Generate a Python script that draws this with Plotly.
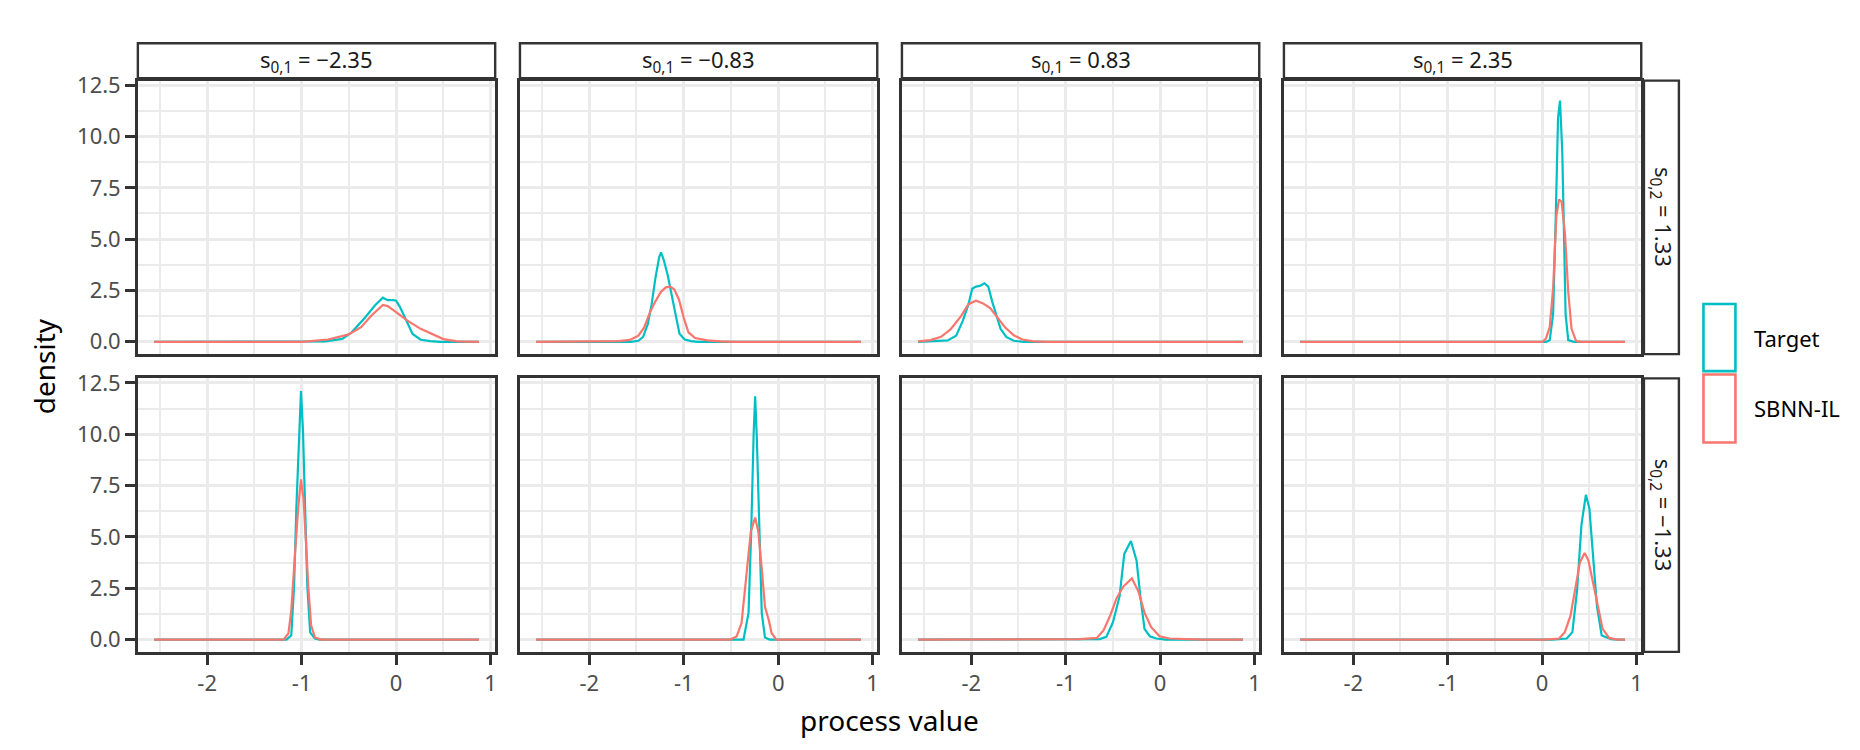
import plotly.graph_objects as go

# ---------------- data ----------------
s01_values = [-2.35, -0.83, 0.83, 2.35]
s02_values = [1.33, -1.33]
series_names = ["Target", "SBNN-IL"]
series_colors = ["#00BFC4", "#F8766D"]

x_tick_vals = [-2, -1, 0, 1]
x_tick_text = ["-2", "-1", "0", "1"]
x_minor_vals = [-2.5, -1.5, -0.5, 0.5]
y_tick_vals = [0, 2.5, 5, 7.5, 10, 12.5]
y_tick_text = ["0.0", "2.5", "5.0", "7.5", "10.0", "12.5"]
y_minor_vals = [1.25, 3.75, 6.25, 8.75, 11.25]

# row 1 (s02 = 1.33)
target_x_r1c1 = [-2.562, -0.9, -0.75, -0.57, -0.47, -0.33, -0.225, -0.14, -0.09, -0.03, 0.0, 0.04, 0.1, 0.175, 0.26, 0.365, 0.47, 0.877]
target_y_r1c1 = [0, 0, 0.02, 0.14, 0.46, 1.17, 1.77, 2.15, 2.03, 2.03, 2.0, 1.7, 1.1, 0.38, 0.1, 0.03, 0, 0]
sbnn_x_r1c1 = [-2.562, -1.0, -0.72, -0.508, -0.37, -0.263, -0.14, -0.088, 0.0, 0.12, 0.26, 0.38, 0.5, 0.65, 0.877]
sbnn_y_r1c1 = [0, 0, 0.11, 0.35, 0.71, 1.27, 1.79, 1.74, 1.45, 1.03, 0.63, 0.36, 0.13, 0.02, 0]

target_x_r1c2 = [-2.562, -1.56, -1.48, -1.43, -1.38, -1.34, -1.30, -1.26, -1.24, -1.21, -1.17, -1.13, -1.09, -1.045, -0.99, -0.92, -0.85, 0.877]
target_y_r1c2 = [0, 0, 0.05, 0.24, 0.87, 1.82, 3.1, 4.12, 4.36, 3.96, 3.25, 2.37, 1.34, 0.39, 0.11, 0.03, 0, 0]
sbnn_x_r1c2 = [-2.562, -1.8, -1.69, -1.57, -1.48, -1.42, -1.36, -1.30, -1.24, -1.19, -1.14, -1.10, -1.05, -1.0, -0.95, -0.88, -0.75, -0.61, -0.47, 0.877]
sbnn_y_r1c2 = [0, 0, 0.03, 0.09, 0.3, 0.69, 1.41, 1.97, 2.44, 2.65, 2.68, 2.55, 2.05, 1.17, 0.46, 0.18, 0.07, 0.02, 0, 0]

target_x_r1c3 = [-2.562, -2.39, -2.25, -2.16, -2.09, -2.03, -1.99, -1.95, -1.91, -1.86, -1.82, -1.78, -1.73, -1.69, -1.63, -1.55, -1.45, 0.877]
target_y_r1c3 = [0, 0.02, 0.07, 0.3, 1.02, 1.82, 2.58, 2.69, 2.72, 2.85, 2.69, 1.98, 1.26, 0.63, 0.24, 0.05, 0, 0]
sbnn_x_r1c3 = [-2.562, -2.43, -2.32, -2.22, -2.11, -2.03, -1.95, -1.88, -1.80, -1.73, -1.64, -1.55, -1.46, -1.34, -1.2, 0.877]
sbnn_y_r1c3 = [0.02, 0.08, 0.24, 0.6, 1.24, 1.83, 2.0, 1.88, 1.64, 1.21, 0.69, 0.32, 0.11, 0.02, 0, 0]

target_x_r1c4 = [-2.562, 0.04, 0.08, 0.116, 0.144, 0.168, 0.189, 0.213, 0.231, 0.248, 0.276, 0.336, 0.877]
target_y_r1c4 = [0, 0, 0.08, 1.35, 6.1, 10.9, 11.75, 9.26, 5.3, 1.35, 0.08, 0, 0]
sbnn_x_r1c4 = [-2.562, 0.005, 0.04, 0.08, 0.116, 0.15, 0.178, 0.206, 0.241, 0.276, 0.311, 0.36, 0.42, 0.877]
sbnn_y_r1c4 = [0, 0, 0.16, 0.71, 2.61, 6.1, 6.93, 6.82, 5.3, 2.45, 0.63, 0.03, 0, 0]

# row 2 (s02 = -1.33)
target_x_r2c1 = [-2.562, -1.16, -1.11, -1.08, -1.056, -1.03, -1.007, -0.986, -0.965, -0.94, -0.91, -0.86, -0.81, 0.877]
target_y_r2c1 = [0, 0, 0.2, 2.6, 6.4, 10.0, 12.1, 10.2, 6.4, 2.6, 0.35, 0.05, 0, 0]
sbnn_x_r2c1 = [-2.562, -1.19, -1.14, -1.11, -1.07, -1.035, -1.007, -0.98, -0.955, -0.93, -0.9, -0.86, -0.79, 0.877]
sbnn_y_r2c1 = [0, 0, 0.3, 1.4, 4.2, 6.5, 7.8, 6.85, 4.8, 2.6, 0.7, 0.1, 0, 0]

target_x_r2c2 = [-2.562, -0.367, -0.314, -0.286, -0.26, -0.244, -0.226, -0.2, -0.174, -0.14, -0.09, 0.877]
target_y_r2c2 = [0, 0, 1.3, 5.2, 10.0, 11.85, 9.8, 5.2, 1.3, 0.1, 0, 0]
sbnn_x_r2c2 = [-2.562, -0.507, -0.44, -0.388, -0.335, -0.29, -0.244, -0.21, -0.175, -0.14, -0.1, -0.07, -0.02, 0.877]
sbnn_y_r2c2 = [0, 0, 0.15, 0.8, 3.2, 5.25, 5.94, 5.25, 3.5, 1.6, 0.95, 0.32, 0, 0]

target_x_r2c3 = [-2.562, -0.78, -0.64, -0.57, -0.5, -0.43, -0.38, -0.31, -0.25, -0.21, -0.166, -0.11, -0.04, 0.06, 0.877]
target_y_r2c3 = [0, 0, 0.02, 0.13, 0.84, 2.1, 4.17, 4.8, 3.85, 2.1, 0.52, 0.16, 0.05, 0, 0]
sbnn_x_r2c3 = [-2.562, -0.85, -0.67, -0.6, -0.53, -0.46, -0.39, -0.3, -0.23, -0.166, -0.095, -0.007, 0.1, 0.27, 0.45, 0.877]
sbnn_y_r2c3 = [0, 0.02, 0.08, 0.44, 1.16, 2.03, 2.58, 2.98, 2.34, 1.31, 0.6, 0.16, 0.05, 0.02, 0, 0]

target_x_r2c4 = [-2.562, 0.105, 0.26, 0.32, 0.37, 0.416, 0.463, 0.5, 0.54, 0.58, 0.63, 0.73, 0.8, 0.877]
target_y_r2c4 = [0, 0, 0.05, 0.36, 2.42, 5.6, 7.05, 6.39, 4.0, 1.63, 0.2, 0.02, 0, 0]
sbnn_x_r2c4 = [-2.562, 0.03, 0.18, 0.24, 0.3, 0.35, 0.4, 0.45, 0.49, 0.54, 0.59, 0.64, 0.71, 0.8, 0.877]
sbnn_y_r2c4 = [0, 0, 0.05, 0.36, 1.16, 2.42, 3.77, 4.22, 3.85, 2.74, 1.63, 0.52, 0.08, 0, 0]

panel_data = [
    [(target_x_r1c1, target_y_r1c1, sbnn_x_r1c1, sbnn_y_r1c1),
     (target_x_r1c2, target_y_r1c2, sbnn_x_r1c2, sbnn_y_r1c2),
     (target_x_r1c3, target_y_r1c3, sbnn_x_r1c3, sbnn_y_r1c3),
     (target_x_r1c4, target_y_r1c4, sbnn_x_r1c4, sbnn_y_r1c4)],
    [(target_x_r2c1, target_y_r2c1, sbnn_x_r2c1, sbnn_y_r2c1),
     (target_x_r2c2, target_y_r2c2, sbnn_x_r2c2, sbnn_y_r2c2),
     (target_x_r2c3, target_y_r2c3, sbnn_x_r2c3, sbnn_y_r2c3),
     (target_x_r2c4, target_y_r2c4, sbnn_x_r2c4, sbnn_y_r2c4)],
]

# ---------------- layout geometry (pixels) ----------------
W, H = 1860, 750
col_px = [(130.0, 487.7), (512.5, 870.2), (894.9, 1252.6), (1277.3, 1635.0)]
row_px = [(61.7, 340.0), (364.7, 643.0)]
strip_top = (23.7, 59.3)
strip_right = (1637.7, 1672.7)
x_range = [-2.734, 1.049]
y_range = [-0.6, 12.72]

FONT = "Noto Sans"
DARK = "#333333"
GRID = "#EBEBEB"


def px_x(p):
    return p / W


def px_y(p):
    return 1 - p / H


fig = go.Figure()
layout = dict(
    width=W, height=H, autosize=False,
    margin=dict(l=0, r=0, t=0, b=0),
    paper_bgcolor="white", plot_bgcolor="white",
    showlegend=False,
    font=dict(family=FONT, color="#1A1A1A"),
)

shapes = []
annotations = []

for r in range(2):
    for c in range(4):
        k = r * 4 + c + 1
        ax_suffix = "" if k == 1 else str(k)
        tx, ty, sx, sy = panel_data[r][c]
        for (xx, yy, name, color) in [(tx, ty, series_names[0], series_colors[0]),
                                       (sx, sy, series_names[1], series_colors[1])]:
            fig.add_trace(go.Scatter(
                x=xx, y=yy, mode="lines", name=name,
                line=dict(color=color, width=2.2),
                xaxis="x" + ax_suffix, yaxis="y" + ax_suffix,
                showlegend=False, hoverinfo="skip",
            ))
        bottom = (r == 1)
        left = (c == 0)
        layout["xaxis" + ax_suffix] = dict(
            domain=[px_x(col_px[c][0]), px_x(col_px[c][1])],
            anchor="y" + ax_suffix, range=x_range,
            tickmode="array", tickvals=x_tick_vals, ticktext=x_tick_text,
            showticklabels=bottom, ticks="outside" if bottom else "",
            ticklen=10, tickwidth=2.6, tickcolor=DARK,
            tickfont=dict(family=FONT, size=22, color="#4D4D4D"),
            showgrid=True, gridcolor=GRID, gridwidth=3.2,
            minor=dict(tickmode="array", tickvals=x_minor_vals, showgrid=True,
                       gridcolor=GRID, gridwidth=1.8, ticks=""),
            showline=True, linecolor=DARK, linewidth=2.5, mirror=True,
            zeroline=False, fixedrange=True,
        )
        layout["yaxis" + ax_suffix] = dict(
            domain=[px_y(row_px[r][1]), px_y(row_px[r][0])],
            anchor="x" + ax_suffix, range=y_range,
            tickmode="array", tickvals=y_tick_vals, ticktext=y_tick_text,
            showticklabels=left, ticks="outside" if left else "",
            ticklen=10, tickwidth=2.6, tickcolor=DARK,
            tickfont=dict(family=FONT, size=22, color="#4D4D4D"),
            showgrid=True, gridcolor=GRID, gridwidth=3.2,
            minor=dict(tickmode="array", tickvals=y_minor_vals, showgrid=True,
                       gridcolor=GRID, gridwidth=1.8, ticks=""),
            showline=True, linecolor=DARK, linewidth=2.5, mirror=True,
            zeroline=False, fixedrange=True,
        )


def fmt_val(v):
    return ("\u2212" + f"{abs(v):.2f}") if v < 0 else f"{v:.2f}"


# top strips
for c, v in enumerate(s01_values):
    x0, x1 = col_px[c]
    shapes.append(dict(type="rect", xref="paper", yref="paper",
                       x0=px_x(x0), x1=px_x(x1), y0=px_y(strip_top[1]), y1=px_y(strip_top[0]),
                       line=dict(color=DARK, width=2.4), fillcolor="white", layer="below"))
    annotations.append(dict(
        xref="paper", yref="paper", x=px_x((x0 + x1) / 2), y=px_y((strip_top[0] + strip_top[1]) / 2),
        text=f"s<sub>0,1</sub> = {fmt_val(v)}", showarrow=False,
        font=dict(family=FONT, size=22, color="#1A1A1A"),
        xanchor="center", yanchor="middle"))

# right strips
for r, v in enumerate(s02_values):
    y0, y1 = row_px[r]
    shapes.append(dict(type="rect", xref="paper", yref="paper",
                       x0=px_x(strip_right[0]), x1=px_x(strip_right[1]), y0=px_y(y1), y1=px_y(y0),
                       line=dict(color=DARK, width=2.4), fillcolor="white", layer="below"))
    annotations.append(dict(
        xref="paper", yref="paper", x=px_x((strip_right[0] + strip_right[1]) / 2), y=px_y((y0 + y1) / 2),
        text=f"s<sub>0,2</sub> = {fmt_val(v)}", showarrow=False, textangle=90,
        font=dict(family=FONT, size=22, color="#1A1A1A"),
        xanchor="center", yanchor="middle"))

# axis titles
annotations.append(dict(xref="paper", yref="paper", x=px_x((col_px[0][0] + col_px[3][1]) / 2), y=px_y(712),
                        text="process value", showarrow=False,
                        font=dict(family=FONT, size=28, color="black"),
                        xanchor="center", yanchor="middle"))
annotations.append(dict(xref="paper", yref="paper", x=px_x(36), y=px_y((row_px[0][0] + row_px[1][1]) / 2),
                        text="density", showarrow=False, textangle=-90,
                        font=dict(family=FONT, size=28, color="black"),
                        xanchor="center", yanchor="middle"))

# legend (outlined keys as in ggplot density legend)
legend_keys = [(289.0, 357.3), (360.7, 430.0)]
for (ky0, ky1), name, color in zip(legend_keys, series_names, series_colors):
    shapes.append(dict(type="rect", xref="paper", yref="paper",
                       x0=px_x(1697.3), x1=px_x(1729.3), y0=px_y(ky1), y1=px_y(ky0),
                       line=dict(color=color, width=2.6), fillcolor="rgba(0,0,0,0)"))
    annotations.append(dict(xref="paper", yref="paper", x=px_x(1746), y=px_y((ky0 + ky1) / 2),
                            text=name, showarrow=False,
                            font=dict(family=FONT, size=22, color="black"),
                            xanchor="left", yanchor="middle"))

layout["shapes"] = shapes
layout["annotations"] = annotations
fig.update_layout(**layout)
fig.write_html("out.html", config={"displayModeBar": False})
